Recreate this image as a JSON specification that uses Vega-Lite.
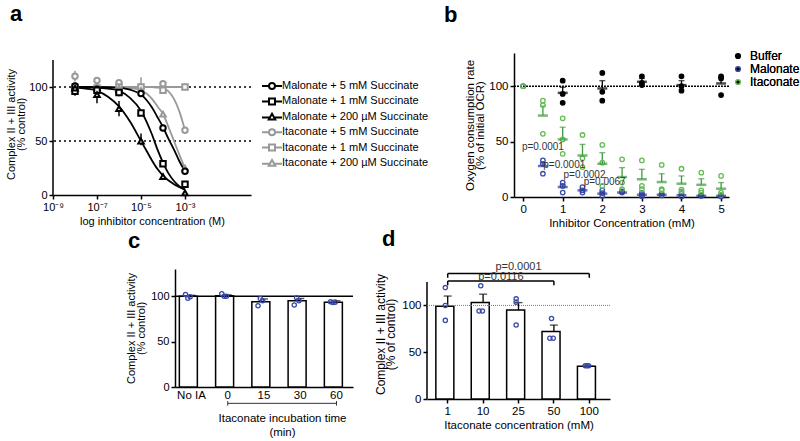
{
  "$schema": "https://vega.github.io/schema/vega-lite/v6.json",
  "padding": {"left": 5, "top": 3, "right": 0, "bottom": 0},
  "datasets": {
    "a_fit": [
      {"s": "Itaconate + 1 mM Succinate", "lc": -8, "v": 100}, {"s": "Itaconate + 1 mM Succinate", "lc": -3, "v": 100},
      {"s": "Itaconate + 5 mM Succinate", "lc": -8, "v": 100}, {"s": "Itaconate + 5 mM Succinate", "lc": -5, "v": 100}, {"s": "Itaconate + 5 mM Succinate", "lc": -4.5, "v": 100}, {"s": "Itaconate + 5 mM Succinate", "lc": -4.25, "v": 99.5}, {"s": "Itaconate + 5 mM Succinate", "lc": -4, "v": 98.5}, {"s": "Itaconate + 5 mM Succinate", "lc": -3.75, "v": 96}, {"s": "Itaconate + 5 mM Succinate", "lc": -3.5, "v": 89}, {"s": "Itaconate + 5 mM Succinate", "lc": -3.25, "v": 77}, {"s": "Itaconate + 5 mM Succinate", "lc": -3, "v": 60},
      {"s": "Itaconate + 200 µM Succinate", "lc": -8, "v": 100}, {"s": "Itaconate + 200 µM Succinate", "lc": -6, "v": 99.8}, {"s": "Itaconate + 200 µM Succinate", "lc": -5.5, "v": 99}, {"s": "Itaconate + 200 µM Succinate", "lc": -5, "v": 97}, {"s": "Itaconate + 200 µM Succinate", "lc": -4.75, "v": 94}, {"s": "Itaconate + 200 µM Succinate", "lc": -4.5, "v": 89}, {"s": "Itaconate + 200 µM Succinate", "lc": -4.25, "v": 82}, {"s": "Itaconate + 200 µM Succinate", "lc": -4, "v": 75}, {"s": "Itaconate + 200 µM Succinate", "lc": -3.75, "v": 63}, {"s": "Itaconate + 200 µM Succinate", "lc": -3.5, "v": 50}, {"s": "Itaconate + 200 µM Succinate", "lc": -3.25, "v": 37}, {"s": "Itaconate + 200 µM Succinate", "lc": -3, "v": 25},
      {"s": "Malonate + 5 mM Succinate", "lc": -8, "v": 100}, {"s": "Malonate + 5 mM Succinate", "lc": -7, "v": 100}, {"s": "Malonate + 5 mM Succinate", "lc": -6, "v": 99.5}, {"s": "Malonate + 5 mM Succinate", "lc": -5.5, "v": 97.5}, {"s": "Malonate + 5 mM Succinate", "lc": -5, "v": 93}, {"s": "Malonate + 5 mM Succinate", "lc": -4.75, "v": 88}, {"s": "Malonate + 5 mM Succinate", "lc": -4.5, "v": 81}, {"s": "Malonate + 5 mM Succinate", "lc": -4.25, "v": 72}, {"s": "Malonate + 5 mM Succinate", "lc": -4, "v": 63}, {"s": "Malonate + 5 mM Succinate", "lc": -3.75, "v": 52}, {"s": "Malonate + 5 mM Succinate", "lc": -3.5, "v": 42}, {"s": "Malonate + 5 mM Succinate", "lc": -3.25, "v": 31}, {"s": "Malonate + 5 mM Succinate", "lc": -3, "v": 22},
      {"s": "Malonate + 1 mM Succinate", "lc": -8, "v": 100}, {"s": "Malonate + 1 mM Succinate", "lc": -7, "v": 99.5}, {"s": "Malonate + 1 mM Succinate", "lc": -6.5, "v": 98.5}, {"s": "Malonate + 1 mM Succinate", "lc": -6, "v": 96.5}, {"s": "Malonate + 1 mM Succinate", "lc": -5.5, "v": 90}, {"s": "Malonate + 1 mM Succinate", "lc": -5, "v": 78}, {"s": "Malonate + 1 mM Succinate", "lc": -4.75, "v": 68}, {"s": "Malonate + 1 mM Succinate", "lc": -4.5, "v": 56}, {"s": "Malonate + 1 mM Succinate", "lc": -4.25, "v": 42}, {"s": "Malonate + 1 mM Succinate", "lc": -4, "v": 30}, {"s": "Malonate + 1 mM Succinate", "lc": -3.75, "v": 20}, {"s": "Malonate + 1 mM Succinate", "lc": -3.5, "v": 13}, {"s": "Malonate + 1 mM Succinate", "lc": -3.25, "v": 8}, {"s": "Malonate + 1 mM Succinate", "lc": -3, "v": 5},
      {"s": "Malonate + 200 µM Succinate", "lc": -8, "v": 99.5}, {"s": "Malonate + 200 µM Succinate", "lc": -7.5, "v": 98.5}, {"s": "Malonate + 200 µM Succinate", "lc": -7, "v": 96.5}, {"s": "Malonate + 200 µM Succinate", "lc": -6.5, "v": 91}, {"s": "Malonate + 200 µM Succinate", "lc": -6, "v": 82}, {"s": "Malonate + 200 µM Succinate", "lc": -5.5, "v": 68}, {"s": "Malonate + 200 µM Succinate", "lc": -5, "v": 50}, {"s": "Malonate + 200 µM Succinate", "lc": -4.75, "v": 41}, {"s": "Malonate + 200 µM Succinate", "lc": -4.5, "v": 32}, {"s": "Malonate + 200 µM Succinate", "lc": -4.25, "v": 24}, {"s": "Malonate + 200 µM Succinate", "lc": -4, "v": 18}, {"s": "Malonate + 200 µM Succinate", "lc": -3.5, "v": 10}, {"s": "Malonate + 200 µM Succinate", "lc": -3, "v": 5}
    ],
    "a_pts": [
      {"s": "Itaconate + 5 mM Succinate", "lc": -8, "v": 110, "lo": 105, "hi": 115}, {"s": "Itaconate + 5 mM Succinate", "lc": -7, "v": 106, "lo": 104, "hi": 108}, {"s": "Itaconate + 5 mM Succinate", "lc": -6, "v": 104, "lo": 103, "hi": 105}, {"s": "Itaconate + 5 mM Succinate", "lc": -5, "v": 100, "lo": 99, "hi": 101}, {"s": "Itaconate + 5 mM Succinate", "lc": -4, "v": 103, "lo": 102, "hi": 104}, {"s": "Itaconate + 5 mM Succinate", "lc": -3, "v": 60, "lo": 58, "hi": 62},
      {"s": "Itaconate + 1 mM Succinate", "lc": -8, "v": 100, "lo": 98, "hi": 102}, {"s": "Itaconate + 1 mM Succinate", "lc": -7, "v": 99, "lo": 98, "hi": 100}, {"s": "Itaconate + 1 mM Succinate", "lc": -6, "v": 100, "lo": 99, "hi": 101}, {"s": "Itaconate + 1 mM Succinate", "lc": -5, "v": 100, "lo": 92, "hi": 109}, {"s": "Itaconate + 1 mM Succinate", "lc": -4, "v": 97, "lo": 95, "hi": 99}, {"s": "Itaconate + 1 mM Succinate", "lc": -3, "v": 100, "lo": 99, "hi": 101},
      {"s": "Itaconate + 200 µM Succinate", "lc": -8, "v": 101, "lo": 100, "hi": 102}, {"s": "Itaconate + 200 µM Succinate", "lc": -7, "v": 100, "lo": 99, "hi": 101}, {"s": "Itaconate + 200 µM Succinate", "lc": -6, "v": 99, "lo": 98, "hi": 100}, {"s": "Itaconate + 200 µM Succinate", "lc": -5, "v": 97, "lo": 96, "hi": 98}, {"s": "Itaconate + 200 µM Succinate", "lc": -4, "v": 75, "lo": 73, "hi": 77}, {"s": "Itaconate + 200 µM Succinate", "lc": -3, "v": 25, "lo": 24, "hi": 26},
      {"s": "Malonate + 5 mM Succinate", "lc": -8, "v": 101, "lo": 99, "hi": 103}, {"s": "Malonate + 5 mM Succinate", "lc": -7, "v": 98, "lo": 97, "hi": 99}, {"s": "Malonate + 5 mM Succinate", "lc": -6, "v": 95, "lo": 93, "hi": 97}, {"s": "Malonate + 5 mM Succinate", "lc": -5, "v": 94, "lo": 93, "hi": 95}, {"s": "Malonate + 5 mM Succinate", "lc": -4, "v": 62, "lo": 60, "hi": 64}, {"s": "Malonate + 5 mM Succinate", "lc": -3, "v": 22, "lo": 21, "hi": 23},
      {"s": "Malonate + 1 mM Succinate", "lc": -8, "v": 96, "lo": 92, "hi": 100}, {"s": "Malonate + 1 mM Succinate", "lc": -7, "v": 97, "lo": 95, "hi": 99}, {"s": "Malonate + 1 mM Succinate", "lc": -6, "v": 95, "lo": 93, "hi": 97}, {"s": "Malonate + 1 mM Succinate", "lc": -5, "v": 76, "lo": 75, "hi": 77}, {"s": "Malonate + 1 mM Succinate", "lc": -4, "v": 29, "lo": 28, "hi": 30}, {"s": "Malonate + 1 mM Succinate", "lc": -3, "v": 10, "lo": 8, "hi": 12},
      {"s": "Malonate + 200 µM Succinate", "lc": -8, "v": 99, "lo": 97, "hi": 101}, {"s": "Malonate + 200 µM Succinate", "lc": -7, "v": 93, "lo": 85, "hi": 100}, {"s": "Malonate + 200 µM Succinate", "lc": -6, "v": 80, "lo": 73, "hi": 87}, {"s": "Malonate + 200 µM Succinate", "lc": -5, "v": 50, "lo": 46, "hi": 57}, {"s": "Malonate + 200 µM Succinate", "lc": -4, "v": 17, "lo": 16, "hi": 18}, {"s": "Malonate + 200 µM Succinate", "lc": -3, "v": 2, "lo": 1, "hi": 4}
    ],
    "b_pts": [
      {"g": "Buffer", "c": 1, "v": 105}, {"g": "Buffer", "c": 1, "v": 93}, {"g": "Buffer", "c": 1, "v": 85},
      {"g": "Buffer", "c": 2, "v": 112}, {"g": "Buffer", "c": 2, "v": 95}, {"g": "Buffer", "c": 2, "v": 87},
      {"g": "Buffer", "c": 3, "v": 109}, {"g": "Buffer", "c": 3, "v": 103}, {"g": "Buffer", "c": 3, "v": 101},
      {"g": "Buffer", "c": 4, "v": 109}, {"g": "Buffer", "c": 4, "v": 100}, {"g": "Buffer", "c": 4, "v": 96},
      {"g": "Buffer", "c": 5, "v": 109}, {"g": "Buffer", "c": 5, "v": 107}, {"g": "Buffer", "c": 5, "v": 92},
      {"g": "Malonate", "c": 0, "v": 100},
      {"g": "Malonate", "c": 0.5, "v": 33}, {"g": "Malonate", "c": 0.5, "v": 30}, {"g": "Malonate", "c": 0.5, "v": 21},
      {"g": "Malonate", "c": 1, "v": 13}, {"g": "Malonate", "c": 1, "v": 10}, {"g": "Malonate", "c": 1, "v": 4},
      {"g": "Malonate", "c": 1.5, "v": 9}, {"g": "Malonate", "c": 1.5, "v": 6}, {"g": "Malonate", "c": 1.5, "v": 4},
      {"g": "Malonate", "c": 2, "v": 6}, {"g": "Malonate", "c": 2, "v": 3.5}, {"g": "Malonate", "c": 2, "v": 1},
      {"g": "Malonate", "c": 2.5, "v": 5}, {"g": "Malonate", "c": 2.5, "v": 4},
      {"g": "Malonate", "c": 3, "v": 3.7}, {"g": "Malonate", "c": 3, "v": 2}, {"g": "Malonate", "c": 3, "v": 0.6},
      {"g": "Malonate", "c": 3.5, "v": 3}, {"g": "Malonate", "c": 3.5, "v": 1.4},
      {"g": "Malonate", "c": 4, "v": 3.4}, {"g": "Malonate", "c": 4, "v": 0.5},
      {"g": "Malonate", "c": 4.5, "v": 2}, {"g": "Malonate", "c": 4.5, "v": 1},
      {"g": "Malonate", "c": 5, "v": 1.4}, {"g": "Malonate", "c": 5, "v": 0.5},
      {"g": "Itaconate", "c": 0, "v": 100},
      {"g": "Itaconate", "c": 0.5, "v": 87}, {"g": "Itaconate", "c": 0.5, "v": 83}, {"g": "Itaconate", "c": 0.5, "v": 57},
      {"g": "Itaconate", "c": 1, "v": 71}, {"g": "Itaconate", "c": 1, "v": 52}, {"g": "Itaconate", "c": 1, "v": 39},
      {"g": "Itaconate", "c": 1.5, "v": 56}, {"g": "Itaconate", "c": 1.5, "v": 35}, {"g": "Itaconate", "c": 1.5, "v": 27},
      {"g": "Itaconate", "c": 2, "v": 47}, {"g": "Itaconate", "c": 2, "v": 31}, {"g": "Itaconate", "c": 2, "v": 10},
      {"g": "Itaconate", "c": 2.5, "v": 34}, {"g": "Itaconate", "c": 2.5, "v": 13}, {"g": "Itaconate", "c": 2.5, "v": 7},
      {"g": "Itaconate", "c": 3, "v": 33}, {"g": "Itaconate", "c": 3, "v": 10}, {"g": "Itaconate", "c": 3, "v": 7},
      {"g": "Itaconate", "c": 3.5, "v": 29}, {"g": "Itaconate", "c": 3.5, "v": 7}, {"g": "Itaconate", "c": 3.5, "v": 6},
      {"g": "Itaconate", "c": 4, "v": 25.5}, {"g": "Itaconate", "c": 4, "v": 6.6}, {"g": "Itaconate", "c": 4, "v": 5},
      {"g": "Itaconate", "c": 4.5, "v": 22}, {"g": "Itaconate", "c": 4.5, "v": 6}, {"g": "Itaconate", "c": 4.5, "v": 4},
      {"g": "Itaconate", "c": 5, "v": 19}, {"g": "Itaconate", "c": 5, "v": 4}, {"g": "Itaconate", "c": 5, "v": 2}
    ],
    "b_mean": [
      {"g": "Buffer", "c": 1, "m": 94, "hi": 99}, {"g": "Buffer", "c": 2, "m": 98, "hi": 105}, {"g": "Buffer", "c": 3, "m": 104, "hi": 107}, {"g": "Buffer", "c": 4, "m": 101, "hi": 105}, {"g": "Buffer", "c": 5, "m": 102.5, "hi": 108},
      {"g": "Malonate", "c": 0.5, "m": 28, "hi": 31}, {"g": "Malonate", "c": 1, "m": 9, "hi": 11}, {"g": "Malonate", "c": 1.5, "m": 6, "hi": 7.5}, {"g": "Malonate", "c": 2, "m": 3, "hi": 4.5}, {"g": "Malonate", "c": 2.5, "m": 4, "hi": 5}, {"g": "Malonate", "c": 3, "m": 2, "hi": 3}, {"g": "Malonate", "c": 3.5, "m": 2, "hi": 2.8}, {"g": "Malonate", "c": 4, "m": 1.5, "hi": 2.5}, {"g": "Malonate", "c": 4.5, "m": 1, "hi": 1.6}, {"g": "Malonate", "c": 5, "m": 1, "hi": 1.5},
      {"g": "Itaconate", "c": 0.5, "m": 73.5, "hi": 82}, {"g": "Itaconate", "c": 1, "m": 52, "hi": 63}, {"g": "Itaconate", "c": 1.5, "m": 37.5, "hi": 47.5}, {"g": "Itaconate", "c": 2, "m": 30, "hi": 40}, {"g": "Itaconate", "c": 2.5, "m": 18, "hi": 26.5}, {"g": "Itaconate", "c": 3, "m": 16, "hi": 25}, {"g": "Itaconate", "c": 3.5, "m": 13.5, "hi": 21}, {"g": "Itaconate", "c": 4, "m": 12, "hi": 19}, {"g": "Itaconate", "c": 4.5, "m": 11, "hi": 16.5}, {"g": "Itaconate", "c": 5, "m": 7.5, "hi": 13}
    ],
    "b_p": [
      {"c": 0.5, "v": 45, "t": "p=0.0001"}, {"c": 1.04, "v": 28.8, "t": "p=0.0001"}, {"c": 1.55, "v": 20.3, "t": "p=0.0002"}, {"c": 2.06, "v": 13.7, "t": "p=0.0067"}
    ],
    "c_bar": [
      {"cat": "No IA", "v": 100, "hi": 101}, {"cat": "0", "v": 100.5, "hi": 101.5}, {"cat": "15", "v": 94, "hi": 97}, {"cat": "30", "v": 95, "hi": 97.5}, {"cat": "60", "v": 93.5, "hi": 95}
    ],
    "c_pts": [
      {"cat": "No IA", "rep": 1, "v": 102}, {"cat": "No IA", "rep": 2, "v": 97.7}, {"cat": "No IA", "rep": 3, "v": 99.5},
      {"cat": "0", "rep": 1, "v": 102.7}, {"cat": "0", "rep": 2, "v": 100}, {"cat": "0", "rep": 3, "v": 100},
      {"cat": "15", "rep": 1, "v": 89.6}, {"cat": "15", "rep": 2, "v": 97.4}, {"cat": "15", "rep": 3, "v": 95},
      {"cat": "30", "rep": 1, "v": 90.3}, {"cat": "30", "rep": 2, "v": 98.4}, {"cat": "30", "rep": 3, "v": 95},
      {"cat": "60", "rep": 1, "v": 94}, {"cat": "60", "rep": 2, "v": 93}, {"cat": "60", "rep": 3, "v": 93.5}
    ],
    "d_bar": [
      {"cat": "1", "v": 99, "hi": 110}, {"cat": "10", "v": 103, "hi": 112}, {"cat": "25", "v": 95, "hi": 103}, {"cat": "50", "v": 72, "hi": 79}, {"cat": "100", "v": 35, "hi": 35}
    ],
    "d_pts": [
      {"cat": "1", "rep": 2, "v": 119}, {"cat": "1", "rep": 2, "v": 100}, {"cat": "1", "rep": 2, "v": 84},
      {"cat": "10", "rep": 2, "v": 121}, {"cat": "10", "rep": 1, "v": 94}, {"cat": "10", "rep": 3, "v": 94},
      {"cat": "25", "rep": 2, "v": 107}, {"cat": "25", "rep": 2, "v": 103.5}, {"cat": "25", "rep": 2, "v": 79},
      {"cat": "50", "rep": 2, "v": 86}, {"cat": "50", "rep": 1, "v": 65}, {"cat": "50", "rep": 3, "v": 65},
      {"cat": "100", "rep": 1, "v": 35.5}, {"cat": "100", "rep": 2, "v": 35.5}, {"cat": "100", "rep": 3, "v": 35.5}
    ],
    "d_brk": [
      {"a": "1", "b": "100", "y": 134, "y2": 129.5}, {"a": "1", "b": "50", "y": 126, "y2": 121.5}
    ]
  },
  "vconcat": [
    {
      "align": "none",
      "hconcat": [
        {
          "width": 198, "height": 142,
          "title": {"text": "a", "dx": -43, "offset": 27},
          "resolve": {"scale": {"color": "independent", "shape": "independent"}},
          "layer": [
            {"data": {"values": [{"y": 100}, {"y": 50}]}, "mark": {"type": "rule", "strokeDash": [2, 3], "strokeWidth": 1.6, "color": "black"},
             "encoding": {"y": {"field": "y", "type": "quantitative", "scale": {"domain": [0, 131.5], "nice": false}}}},
            {"data": {"values": [{"y": 0, "y2": 125}]}, "mark": {"type": "rule", "strokeWidth": 1.5, "color": "black"},
             "encoding": {"x": {"datum": -9}, "y": {"field": "y", "type": "quantitative"}, "y2": {"field": "y2"}}},
            {"data": {"name": "a_fit"}, "mark": {"type": "line", "strokeWidth": 1.8, "interpolate": "monotone"},
             "encoding": {
               "x": {"field": "lc", "type": "quantitative", "scale": {"domain": [-9, -2]}},
               "y": {"field": "v", "type": "quantitative", "scale": {"domain": [0, 131.5], "nice": false}},
               "color": {"field": "s", "type": "nominal", "scale": {"domain": ["Malonate + 5 mM Succinate", "Malonate + 1 mM Succinate", "Malonate + 200 µM Succinate", "Itaconate + 5 mM Succinate", "Itaconate + 1 mM Succinate", "Itaconate + 200 µM Succinate"], "range": ["black", "black", "black", "#999999", "#999999", "#999999"]}, "legend": null}
             }},
            {"data": {"name": "a_pts"}, "mark": {"type": "rule", "strokeWidth": 1.5},
             "encoding": {
               "x": {"field": "lc", "type": "quantitative"},
               "y": {"field": "lo", "type": "quantitative"},
               "y2": {"field": "hi"},
               "color": {"field": "s", "type": "nominal", "scale": {"domain": ["Malonate + 5 mM Succinate", "Malonate + 1 mM Succinate", "Malonate + 200 µM Succinate", "Itaconate + 5 mM Succinate", "Itaconate + 1 mM Succinate", "Itaconate + 200 µM Succinate"], "range": ["black", "black", "black", "#999999", "#999999", "#999999"]}, "legend": null}
             }},
            {"data": {"name": "a_pts"}, "mark": {"type": "point", "filled": false, "fill": "white", "strokeWidth": 2, "size": 30, "opacity": 1},
             "encoding": {
               "x": {"field": "lc", "type": "quantitative", "scale": {"domain": [-9, -2]},
                     "axis": {"values": [-9, -8, -7, -6, -5, -4, -3, -2], "labelFlush": false, "title": "log inhibitor concentration (M)",
                              "labelExpr": "'10' + ['⁻⁹','⁻⁸','⁻⁷','⁻⁶','⁻⁵','⁻⁴','⁻³','⁻²'][datum.value + 9]"}},
               "y": {"field": "v", "type": "quantitative", "scale": {"domain": [0, 131.5], "nice": false},
                     "axis": {"values": [0, 25, 50, 75, 100, 125], "domain": false, "title": ["Complex II + III activity", "(% control)"], "titlePadding": 2}},
               "color": {"field": "s", "type": "nominal", "scale": {"domain": ["Malonate + 5 mM Succinate", "Malonate + 1 mM Succinate", "Malonate + 200 µM Succinate", "Itaconate + 5 mM Succinate", "Itaconate + 1 mM Succinate", "Itaconate + 200 µM Succinate"], "range": ["black", "black", "black", "#999999", "#999999", "#999999"]}, "legend": null},
               "shape": {"field": "s", "type": "nominal", "scale": {"domain": ["Malonate + 5 mM Succinate", "Malonate + 1 mM Succinate", "Malonate + 200 µM Succinate", "Itaconate + 5 mM Succinate", "Itaconate + 1 mM Succinate", "Itaconate + 200 µM Succinate"], "range": ["circle", "square", "triangle-up", "circle", "square", "triangle-up"]}, "legend": null}
             }},
            {"data": {"name": "a_pts"}, "mark": {"type": "point", "filled": false, "strokeWidth": 2, "size": 100, "opacity": 0},
             "encoding": {
               "x": {"field": "lc", "type": "quantitative"},
               "y": {"field": "v", "type": "quantitative"},
               "color": {"field": "s", "type": "nominal", "scale": {"domain": ["Malonate + 5 mM Succinate", "Malonate + 1 mM Succinate", "Malonate + 200 µM Succinate", "Itaconate + 5 mM Succinate", "Itaconate + 1 mM Succinate", "Itaconate + 200 µM Succinate"], "range": ["black", "black", "black", "#999999", "#999999", "#999999"]},
                         "legend": {"orient": "none", "legendX": 213, "legendY": 27, "title": null, "labelFontSize": 11, "symbolStrokeWidth": 2, "symbolSize": 100, "symbolOpacity": 1, "rowPadding": 1.4, "labelOffset": 4, "labelLimit": 250}},
               "shape": {"field": "s", "type": "nominal", "scale": {"domain": ["Malonate + 5 mM Succinate", "Malonate + 1 mM Succinate", "Malonate + 200 µM Succinate", "Itaconate + 5 mM Succinate", "Itaconate + 1 mM Succinate", "Itaconate + 200 µM Succinate"],
                         "range": ["M-2,0H-0.6M0.6,0H2M-0.6,0A0.6,0.6 0 1,1 0.6,0A0.6,0.6 0 1,1 -0.6,0Z", "M-2,0H-0.6M0.6,0H2M-0.6,-0.6H0.6V0.6H-0.6Z", "M-2,0.15H-0.5M0.5,0.15H2M0,-0.6L0.65,0.55H-0.65Z", "M-2,0H-0.6M0.6,0H2M-0.6,0A0.6,0.6 0 1,1 0.6,0A0.6,0.6 0 1,1 -0.6,0Z", "M-2,0H-0.6M0.6,0H2M-0.6,-0.6H0.6V0.6H-0.6Z", "M-2,0.15H-0.5M0.5,0.15H2M0,-0.6L0.65,0.55H-0.65Z"]},
                         "legend": {"orient": "none", "legendX": 213, "legendY": 27, "title": null, "labelFontSize": 11, "symbolStrokeWidth": 2, "symbolSize": 100, "symbolOpacity": 1, "rowPadding": 1.4, "labelOffset": 4, "labelLimit": 250}}
             }}
          ]
        },
        {
          "width": 215, "height": 144,
          "title": {"text": "b", "dx": -70, "offset": 23},
          "resolve": {"scale": {"color": "independent"}},
          "layer": [
            {"data": {"values": [{"y": 100}]}, "mark": {"type": "rule", "strokeDash": [2, 1], "strokeWidth": 1.6, "color": "black"},
             "encoding": {"y": {"field": "y", "type": "quantitative", "scale": {"domain": [0, 125]}}}},
            {"data": {"name": "b_mean"}, "mark": {"type": "rule", "strokeWidth": 1.3},
             "encoding": {
               "x": {"field": "c", "type": "quantitative", "scale": {"domain": [-0.23, 5.2], "nice": false}},
               "y": {"field": "m", "type": "quantitative"},
               "y2": {"field": "hi"},
               "color": {"field": "g", "type": "nominal", "scale": {"domain": ["Buffer", "Malonate", "Itaconate"], "range": ["black", "#2b3990", "#3d9a3d"]}, "legend": null}
             }},
            {"data": {"name": "b_mean"}, "mark": {"type": "tick", "orient": "horizontal", "thickness": 1.3, "size": 6},
             "encoding": {
               "x": {"field": "c", "type": "quantitative"},
               "y": {"field": "hi", "type": "quantitative"},
               "color": {"field": "g", "type": "nominal", "scale": {"domain": ["Buffer", "Malonate", "Itaconate"], "range": ["black", "#2b3990", "#3d9a3d"]}, "legend": null}
             }},
            {"data": {"name": "b_pts"}, "mark": {"type": "point", "filled": false, "size": 20, "strokeWidth": 1.3, "opacity": 1},
             "encoding": {
               "x": {"field": "c", "type": "quantitative", "scale": {"domain": [-0.23, 5.2], "nice": false},
                     "axis": {"values": [0, 1, 2, 3, 4, 5], "labelFlush": false, "title": "Inhibitor Concentration (mM)", "labelFontSize": 11.5, "titleFontSize": 11.5}},
               "y": {"field": "v", "type": "quantitative", "scale": {"domain": [0, 125]},
                     "axis": {"values": [0, 25, 50, 75, 100, 125], "title": ["Oxygen consumption rate", "(% of initial OCR)"], "labelFontSize": 11.5, "titleFontSize": 11.5}},
               "color": {"field": "g", "type": "nominal", "scale": {"domain": ["Buffer", "Malonate", "Itaconate"], "range": ["black", "#3a4aa8", "#66bb55"]},
                         "legend": {"orient": "none", "legendX": 218, "legendY": -3, "title": null, "labelFontSize": 12, "symbolSize": 22, "rowPadding": 1, "labelOffset": 6}},
               "fill": {"field": "g", "type": "nominal", "scale": {"domain": ["Buffer", "Malonate", "Itaconate"], "range": ["black", "transparent", "transparent"]},
                         "legend": {"orient": "none", "legendX": 218, "legendY": -3, "title": null, "labelFontSize": 12, "symbolSize": 22, "rowPadding": 1, "labelOffset": 6}}
             }},
            {"data": {"name": "b_mean"}, "mark": {"type": "tick", "orient": "horizontal", "thickness": 2.5, "size": 10},
             "encoding": {
               "x": {"field": "c", "type": "quantitative"},
               "y": {"field": "m", "type": "quantitative"},
               "color": {"field": "g", "type": "nominal", "scale": {"domain": ["Buffer", "Malonate", "Itaconate"], "range": ["black", "#2b3990", "#3d9a3d"]}, "legend": null}
             }},
            {"data": {"name": "b_p"}, "mark": {"type": "text", "fontSize": 10, "color": "#333333"},
             "encoding": {
               "x": {"field": "c", "type": "quantitative"},
               "y": {"field": "v", "type": "quantitative"},
               "text": {"field": "t"}
             }}
          ]
        }
      ],
      "spacing": 15,
      "resolve": {"scale": {"color": "independent", "shape": "independent", "fill": "independent"}, "legend": {"color": "independent", "shape": "independent", "fill": "independent"}}
    },
    {
      "align": "none",
      "hconcat": [
        {"width": 52, "height": 40, "data": {"values": [{"k": 1}]}, "mark": {"type": "point", "opacity": 0}, "encoding": {}},
        {
          "width": 178, "height": 118,
          "title": {"text": "c", "dx": -47, "offset": 16},
          "layer": [
            {"data": {"name": "c_bar"}, "mark": {"type": "bar", "fill": "white", "stroke": "black", "strokeWidth": 1.5},
             "encoding": {
               "x": {"field": "cat", "type": "nominal", "sort": null, "scale": {"domain": ["No IA", "0", "15", "30", "60"], "paddingInner": 0.33, "paddingOuter": 0.12},
                     "axis": {"labelAngle": 0, "ticks": false, "title": ["Itaconate incubation time", "(min)"], "titleX": 107, "titlePadding": 12, "titleLineHeight": 14, "labelFontSize": 11.5, "titleFontSize": 11.5}},
               "y": {"field": "v", "type": "quantitative", "scale": {"domain": [0, 125]},
                     "axis": {"values": [0, 25, 50, 75, 100, 125], "title": ["Complex II + III activity", "(% control)"], "titlePadding": 4}}
             }},
            {"data": {"name": "c_bar"}, "mark": {"type": "rule", "strokeWidth": 1.3, "color": "black"},
             "encoding": {"x": {"field": "cat", "type": "nominal"}, "y": {"field": "v", "type": "quantitative"}, "y2": {"field": "hi"}}},
            {"data": {"name": "c_bar"}, "mark": {"type": "tick", "orient": "horizontal", "thickness": 1.3, "size": 8, "color": "black"},
             "encoding": {"x": {"field": "cat", "type": "nominal"}, "y": {"field": "hi", "type": "quantitative"}}},
            {"data": {"values": [{"y": 100}]}, "mark": {"type": "rule", "strokeWidth": 1.5, "color": "black"},
             "encoding": {"y": {"field": "y", "type": "quantitative"}}},
            {"data": {"name": "c_pts"}, "mark": {"type": "point", "filled": false, "size": 18, "strokeWidth": 1.3, "color": "#3a4aa8", "opacity": 1},
             "encoding": {"x": {"field": "cat", "type": "nominal"}, "xOffset": {"field": "rep", "type": "ordinal", "scale": {"range": [5, 12, 19]}}, "y": {"field": "v", "type": "quantitative"}}},
            {"data": {"values": [{"a": "0", "b": "60"}]}, "mark": {"type": "rule", "strokeWidth": 1, "color": "#333333"},
             "encoding": {"x": {"field": "a", "type": "nominal"}, "x2": {"field": "b"}, "y": {"datum": -18}}},
            {"data": {"values": [{"a": "0"}, {"a": "60"}]}, "mark": {"type": "rule", "strokeWidth": 1, "color": "#333333"},
             "encoding": {"x": {"field": "a", "type": "nominal"}, "y": {"datum": -15.5}, "y2": {"datum": -20.5}}}
          ]
        },
        {
          "width": 183, "height": 130,
          "title": {"text": "d", "dx": -45, "offset": 10},
          "layer": [
            {"data": {"name": "d_bar"}, "mark": {"type": "bar", "fill": "white", "stroke": "black", "strokeWidth": 1.5},
             "encoding": {
               "x": {"field": "cat", "type": "nominal", "sort": null, "scale": {"domain": ["1", "10", "25", "50", "100"], "paddingInner": 0.33, "paddingOuter": 0.25},
                     "axis": {"labelAngle": 0, "title": "Itaconate concentration (mM)", "labelFontSize": 11.5, "titleFontSize": 11.5}},
               "y": {"field": "v", "type": "quantitative", "scale": {"domain": [0, 138.9], "nice": false},
                     "axis": {"values": [0, 25, 50, 75, 100, 125], "domain": false, "title": ["Complex II + III activity", "(% of control)"], "labelFontSize": 11.5, "titleFontSize": 12, "titlePadding": 4}}
             }},
            {"data": {"values": [{"a": "1", "y": 0, "y2": 125}]}, "mark": {"type": "rule", "strokeWidth": 1.5, "color": "black"},
             "encoding": {"x": {"field": "a", "type": "nominal", "bandPosition": -0.3731}, "y": {"field": "y", "type": "quantitative"}, "y2": {"field": "y2"}}},
            {"data": {"name": "d_bar"}, "mark": {"type": "rule", "strokeWidth": 1.3, "color": "black"},
             "encoding": {"x": {"field": "cat", "type": "nominal"}, "y": {"field": "v", "type": "quantitative"}, "y2": {"field": "hi"}}},
            {"data": {"name": "d_bar"}, "mark": {"type": "tick", "orient": "horizontal", "thickness": 1.3, "size": 8, "color": "black"},
             "encoding": {"x": {"field": "cat", "type": "nominal"}, "y": {"field": "hi", "type": "quantitative"}}},
            {"data": {"values": [{"y": 100}]}, "mark": {"type": "rule", "strokeWidth": 1, "color": "#777777", "strokeDash": [1, 1]},
             "encoding": {"y": {"field": "y", "type": "quantitative"}}},
            {"data": {"name": "d_pts"}, "mark": {"type": "point", "filled": false, "size": 18, "strokeWidth": 1.3, "color": "#3a4aa8", "opacity": 1},
             "encoding": {"x": {"field": "cat", "type": "nominal"}, "xOffset": {"field": "rep", "type": "ordinal", "scale": {"range": [7, 12, 17]}}, "y": {"field": "v", "type": "quantitative"}}},
            {"data": {"name": "d_brk"}, "mark": {"type": "rule", "strokeWidth": 1.5, "color": "black"},
             "encoding": {"x": {"field": "a", "type": "nominal"}, "x2": {"field": "b"}, "y": {"field": "y", "type": "quantitative"}}},
            {"data": {"name": "d_brk"}, "mark": {"type": "rule", "strokeWidth": 1.5, "color": "black"},
             "encoding": {"x": {"field": "a", "type": "nominal"}, "y": {"field": "y", "type": "quantitative"}, "y2": {"field": "y2"}}},
            {"data": {"name": "d_brk"}, "mark": {"type": "rule", "strokeWidth": 1.5, "color": "black"},
             "encoding": {"x": {"field": "b", "type": "nominal"}, "y": {"field": "y", "type": "quantitative"}, "y2": {"field": "y2"}}},
            {"data": {"values": [{"x": "25", "y": 134, "t": "p=0.0001"}]}, "mark": {"type": "text", "fontSize": 11, "color": "#333333", "baseline": "alphabetic", "dy": -3.5},
             "encoding": {"x": {"field": "x", "type": "nominal"}, "y": {"field": "y", "type": "quantitative"}, "text": {"field": "t"}}},
            {"data": {"values": [{"x": "10", "y": 126, "t": "p=0.0116"}]}, "mark": {"type": "text", "fontSize": 11, "color": "#333333", "baseline": "alphabetic", "dy": -1},
             "encoding": {"x": {"field": "x", "type": "nominal", "bandPosition": 1.25}, "y": {"field": "y", "type": "quantitative"}, "text": {"field": "t"}}}
          ]
        }
      ],
      "spacing": 20,
      "resolve": {"scale": {"color": "independent", "shape": "independent", "fill": "independent", "xOffset": "independent"}, "legend": {"color": "independent", "shape": "independent", "fill": "independent"}}
    }
  ],
  "spacing": -1,
  "resolve": {"scale": {"color": "independent", "shape": "independent", "fill": "independent", "xOffset": "independent"}, "legend": {"color": "independent", "shape": "independent", "fill": "independent"}},
  "config": {
    "view": {"stroke": null},
    "font": "Liberation Sans",
    "axis": {"grid": false, "domainColor": "black", "tickColor": "black", "labelColor": "black", "titleColor": "black", "labelFontSize": 11, "titleFontSize": 11, "titleFontWeight": "normal", "titleLineHeight": 10.5, "domainWidth": 1.5, "tickWidth": 1.5, "tickSize": 4, "labelFont": "Liberation Sans", "titleFont": "Liberation Sans", "labelPadding": 2, "titlePadding": 3},
    "title": {"fontSize": 22, "fontWeight": "bold", "anchor": "start", "frame": "group", "font": "Liberation Sans", "color": "black"},
    "legend": {"labelFont": "Liberation Sans", "labelColor": "black"}
  }
}
